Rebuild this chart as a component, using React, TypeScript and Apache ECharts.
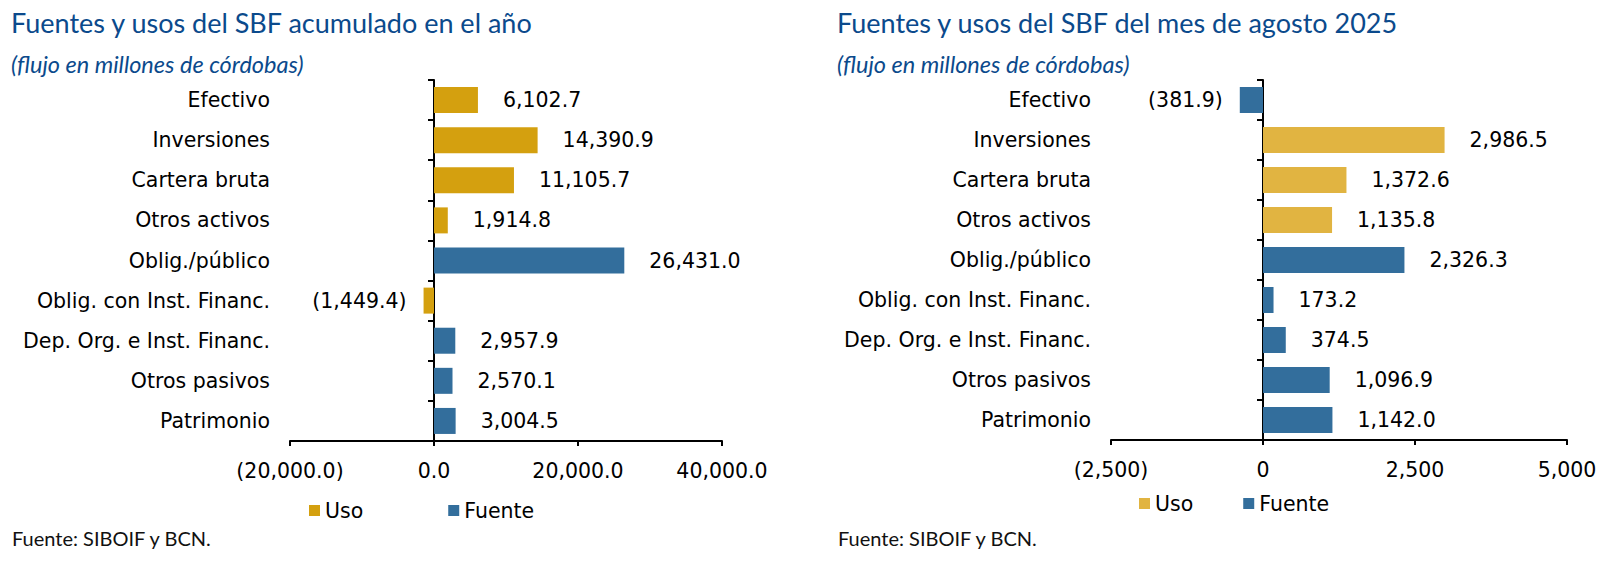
import React, { useEffect, useRef } from "react";
import * as echarts from "echarts";

const categories = [
  "Efectivo",
  "Inversiones",
  "Cartera bruta",
  "Otros activos",
  "Oblig./público",
  "Oblig. con Inst. Financ.",
  "Dep. Org. e Inst. Financ.",
  "Otros pasivos",
  "Patrimonio",
];

// Acumulado en el año
const usoAcum = [6102.7, 14390.9, 11105.7, 1914.8, null, -1449.4, null, null, null];
const fuenteAcum = [null, null, null, null, 26431.0, null, 2957.9, 2570.1, 3004.5];

// Mes de agosto 2025
const usoMes = [null, 2986.5, 1372.6, 1135.8, null, null, null, null, null];
const fuenteMes = [-381.9, null, null, null, 2326.3, 173.2, 374.5, 1096.9, 1142.0];

const axisAcumTicks = { min: -20000, max: 40000, interval: 20000 };
const axisMesTicks = { min: -2500, max: 5000, interval: 2500 };

const titleLeft = "Fuentes y usos del SBF acumulado en el año";
const titleRight = "Fuentes y usos del SBF del mes de agosto 2025";
const subtitle = "(flujo en millones de córdobas)";
const source = "Fuente: SIBOIF y BCN.";

const GOLD_L = "#D4A00F";
const GOLD_R = "#E1B441";
const BLUE = "#336E9C";
const TITLE_BLUE = "#0B4A8C";
const LABEL_FONT = "DejaVu Sans";
const LABEL_SIZE = 20.5;

const fmt = (v: number, d: number) =>
  Math.abs(v).toLocaleString("en-US", { minimumFractionDigits: d, maximumFractionDigits: d });
const fmtSigned = (v: number, d: number) => (v < 0 ? `(${fmt(v, d)})` : fmt(v, d));

const toData = (arr: (number | null)[]) =>
  arr.map((v) =>
    v === null
      ? "-"
      : {
          value: v,
          label: {
            position: v < 0 ? "left" : "right",
            distance: v < 0 ? 17 : 25,
          },
        }
  );

const barSeries = (name: string, data: (number | null)[], color: string, xi: number, yi: number) => ({
  type: "bar",
  name,
  xAxisIndex: xi,
  yAxisIndex: yi,
  data: toData(data),
  barWidth: 26,
  barGap: "-100%",
  itemStyle: { color },
  label: {
    show: true,
    color: "#000",
    fontFamily: LABEL_FONT,
    fontSize: LABEL_SIZE,
    formatter: (p: any) => fmtSigned(p.value, 1),
  },
});

export default function App() {
  const ref = useRef<HTMLDivElement>(null);
  useEffect(() => {
    document.body.style.margin = "0";
    const chart = echarts.init(ref.current!, null, { renderer: "svg" });

    const valueAxis = (gi: number, t: any, d: number) => ({
      type: "value",
      gridIndex: gi,
      min: t.min,
      max: t.max,
      interval: t.interval,
      splitLine: { show: false },
      axisLine: { show: true, onZero: false, lineStyle: { color: "#000", width: 2 } },
      axisTick: { show: true, length: 5, lineStyle: { color: "#000", width: 2 } },
      axisLabel: {
        color: "#000",
        fontFamily: LABEL_FONT,
        fontSize: LABEL_SIZE,
        margin: 19,
        formatter: (v: number) => fmtSigned(v, d),
      },
    });

    const labelAxis = (gi: number) => ({
      type: "category",
      gridIndex: gi,
      inverse: true,
      position: "left",
      data: categories,
      axisLine: { show: false, onZero: false },
      axisTick: { show: false },
      axisLabel: { color: "#000", fontFamily: LABEL_FONT, fontSize: LABEL_SIZE, margin: 20 },
    });

    const zeroAxis = (gi: number) => ({
      type: "category",
      gridIndex: gi,
      inverse: true,
      position: "left",
      data: categories,
      axisLine: { show: true, onZero: true, lineStyle: { color: "#000", width: 2 } },
      axisTick: { show: true, length: 6, alignWithLabel: false, lineStyle: { color: "#000", width: 2 } },
      axisLabel: { show: false },
    });

    const titleStyle = {
      fontFamily: "Lato",
      fontSize: 27,
      fontWeight: "normal",
      color: TITLE_BLUE,
      lineHeight: 30,
    };
    const subStyle = {
      fontFamily: "Lato",
      fontSize: 23.5,
      fontStyle: "italic",
      fontWeight: "normal",
      color: TITLE_BLUE,
      lineHeight: 26,
    };
    const srcStyle = {
      fontFamily: "Lato",
      fontSize: 20,
      fontWeight: "normal",
      color: "#111",
      lineHeight: 24,
    };

    const legendText = { color: "#000", fontFamily: LABEL_FONT, fontSize: LABEL_SIZE, lineHeight: 20 };

    chart.setOption({
      animation: false,
      backgroundColor: "#fff",
      title: [
        { text: titleLeft, left: 11, top: 7, padding: 0, textStyle: titleStyle },
        { text: subtitle, left: 11, top: 51, padding: 0, textStyle: subStyle },
        { text: titleRight, left: 837, top: 7, padding: 0, textStyle: titleStyle },
        { text: subtitle, left: 837, top: 51, padding: 0, textStyle: subStyle },
        { text: source, left: 12, top: 526, padding: 0, textStyle: srcStyle },
        { text: source, left: 838, top: 526, padding: 0, textStyle: srcStyle },
      ],
      legend: [
        {
          left: 309,
          top: 500,
          padding: 0,
          itemWidth: 11,
          itemHeight: 11,
          itemGap: 85,
          icon: "rect",
          textStyle: legendText,
          data: [
            { name: "Uso", itemStyle: { color: GOLD_L } },
            { name: "Fuente", itemStyle: { color: BLUE } },
          ],
        },
        {
          left: 1139,
          top: 493,
          padding: 0,
          itemWidth: 11,
          itemHeight: 11,
          itemGap: 50,
          icon: "rect",
          textStyle: legendText,
          data: [
            { name: "Uso", itemStyle: { color: GOLD_R } },
            { name: "Fuente", itemStyle: { color: BLUE } },
          ],
        },
      ],
      grid: [
        { left: 290, width: 432, top: 80, height: 361 },
        { left: 1111, width: 456, top: 80, height: 360 },
      ],
      xAxis: [valueAxis(0, axisAcumTicks, 1), valueAxis(1, axisMesTicks, 0)],
      yAxis: [labelAxis(0), zeroAxis(0), labelAxis(1), zeroAxis(1)],
      series: [
        barSeries("Uso", usoAcum, GOLD_L, 0, 0),
        barSeries("Fuente", fuenteAcum, BLUE, 0, 0),
        barSeries("Uso", usoMes, GOLD_R, 1, 2),
        barSeries("Fuente", fuenteMes, BLUE, 1, 2),
      ],
    });
    return () => chart.dispose();
  }, []);

  return (
    <div
      ref={ref}
      style={{ position: "absolute", left: 0, top: 0, width: 1612, height: 567, background: "#fff" }}
    />
  );
}
